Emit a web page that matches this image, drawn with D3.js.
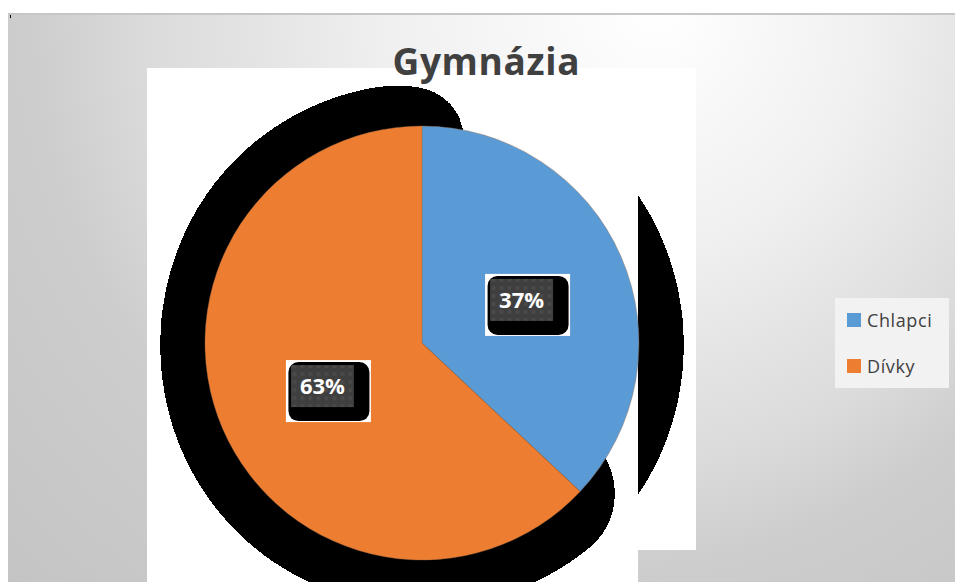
<!DOCTYPE html>
<html>
<head>
<meta charset="utf-8">
<script src="https://cdn.jsdelivr.net/npm/d3@7"></script>
<style>
  body { margin: 0; background: #fff; }
  text { font-family: "Open Sans", sans-serif; }
</style>
</head>
<body>
<svg id="chart" width="955" height="582"></svg>
<script>
const categories = ["Chlapci", "Dívky"];
const values = [37, 63];
const sliceColors = ["#5B9BD5", "#ED7D31"];
const title = "Gymnázia";

const svg = d3.select("#chart");
const center = { x: 422, y: 343 };
const radius = 217;

const defs = svg.append("defs");

// background gradient, light near the top, grey towards the corners
const bg = defs.append("radialGradient")
    .attr("id", "bgGrad")
    .attr("gradientUnits", "userSpaceOnUse")
    .attr("cx", 560).attr("cy", 13).attr("r", 800)
    .attr("fx", 660).attr("fy", 13);
[[0, "#ffffff"], [0.3, "#f0f0f0"], [0.45, "#e4e4e4"], [0.57, "#dbdbdb"],
 [0.7, "#cdcdcd"], [1, "#c4c4c4"]].forEach(s => {
    bg.append("stop").attr("offset", s[0]).attr("stop-color", s[1]);
});

// blurred shadow, thresholded to a hard edge
const steps = 80;
const table = ["0"].concat(d3.range(steps - 1).map(() => "1")).join(" ");
const filt = defs.append("filter")
    .attr("id", "shadowF")
    .attr("filterUnits", "userSpaceOnUse")
    .attr("x", -600).attr("y", -600).attr("width", 1200).attr("height", 1200);
filt.append("feGaussianBlur").attr("in", "SourceAlpha").attr("stdDeviation", 23);
filt.append("feComponentTransfer")
    .append("feFuncA").attr("type", "discrete").attr("tableValues", table);

defs.append("clipPath").attr("id", "rightClip")
    .append("rect").attr("x", 638).attr("y", 68).attr("width", 58).attr("height", 482);

// dotted fill of the label boxes
const pat = defs.append("pattern")
    .attr("id", "dots")
    .attr("patternUnits", "userSpaceOnUse")
    .attr("width", 8).attr("height", 8);
pat.append("rect").attr("width", 8).attr("height", 8).attr("fill", "#3f3f3f");
pat.append("circle").attr("cx", 4).attr("cy", 4).attr("r", 2).attr("fill", "#4b4b4b");

// chart area
svg.append("rect")
    .attr("x", 8).attr("y", 13).attr("width", 947).attr("height", 569)
    .attr("fill", "url(#bgGrad)");
svg.append("rect")
    .attr("x", 8).attr("y", 13).attr("width", 947).attr("height", 2)
    .attr("fill", "#c6c6c6");
svg.append("rect")
    .attr("x", 10).attr("y", 15).attr("width", 1).attr("height", 3)
    .attr("fill", "#000");

// plot area
svg.append("rect")
    .attr("x", 147).attr("y", 68).attr("width", 549).attr("height", 482)
    .attr("fill", "#fff");
svg.append("rect")
    .attr("x", 147).attr("y", 550).attr("width", 491).attr("height", 32)
    .attr("fill", "#fff");

const pie = d3.pie().sort(null).value(d => d);
const arcs = pie(values);
const arc = d3.arc().innerRadius(0).outerRadius(radius);

// shadows
svg.append("g")
    .attr("transform", `translate(${center.x},${center.y + 2})`)
    .append("path")
    .attr("d", arc(arcs[1]))
    .attr("fill", "#000")
    .attr("filter", "url(#shadowF)");

svg.append("g")
    .attr("clip-path", "url(#rightClip)")
    .append("g")
    .attr("transform", `translate(${center.x},${center.y + 2})`)
    .append("path")
    .attr("d", arc(arcs[0]))
    .attr("fill", "#000")
    .attr("filter", "url(#shadowF)");

// slices
const pieG = svg.append("g")
    .attr("transform", `translate(${center.x},${center.y})`);

pieG.selectAll("path.slice")
    .data(arcs)
    .join("path")
    .attr("class", "slice")
    .attr("d", arc)
    .attr("fill", (d, i) => sliceColors[i])
    .attr("stroke", "#9a6a4a")
    .attr("stroke-width", 0.4);

// data labels
const total = d3.sum(values);
const labels = pieG.selectAll("g.label")
    .data(arcs)
    .join("g")
    .attr("class", "label")
    .attr("transform", d => `translate(${arc.centroid(d)})`);

labels.append("rect")
    .attr("x", -36.5).attr("y", -26).attr("width", 85).attr("height", 62)
    .attr("fill", "#fff");
labels.append("rect")
    .attr("x", -34).attr("y", -24).attr("width", 81).attr("height", 59)
    .attr("rx", 10)
    .attr("fill", "#000");
labels.append("rect")
    .attr("x", -31.5).attr("y", -21).attr("width", 63).attr("height", 42)
    .attr("fill", "url(#dots)");
labels.append("text")
    .attr("text-anchor", "middle")
    .attr("dy", "0.36em")
    .attr("fill", "#fff")
    .attr("font-size", 22)
    .attr("font-weight", "bold")
    .text(d => Math.round(d.data / total * 100) + "%");

// title
svg.append("text")
    .attr("x", 486).attr("y", 75)
    .attr("text-anchor", "middle")
    .attr("fill", "#404040")
    .attr("font-size", 37)
    .attr("font-weight", "bold")
    .attr("textLength", 187)
    .attr("lengthAdjust", "spacing")
    .text(title);

// legend
const legend = svg.append("g");
legend.append("rect")
    .attr("x", 835).attr("y", 298).attr("width", 114).attr("height", 90)
    .attr("fill", "#f2f2f2");

const item = legend.selectAll("g.item")
    .data(categories)
    .join("g")
    .attr("class", "item")
    .attr("transform", (d, i) => `translate(847,${313 + i * 46})`);

item.append("rect")
    .attr("width", 14).attr("height", 14)
    .attr("fill", (d, i) => sliceColors[i]);
item.append("text")
    .attr("x", 20).attr("y", 14)
    .attr("fill", "#404040")
    .attr("font-size", 18)
    .attr("letter-spacing", 0.6)
    .text(d => d);
</script>
</body>
</html>
